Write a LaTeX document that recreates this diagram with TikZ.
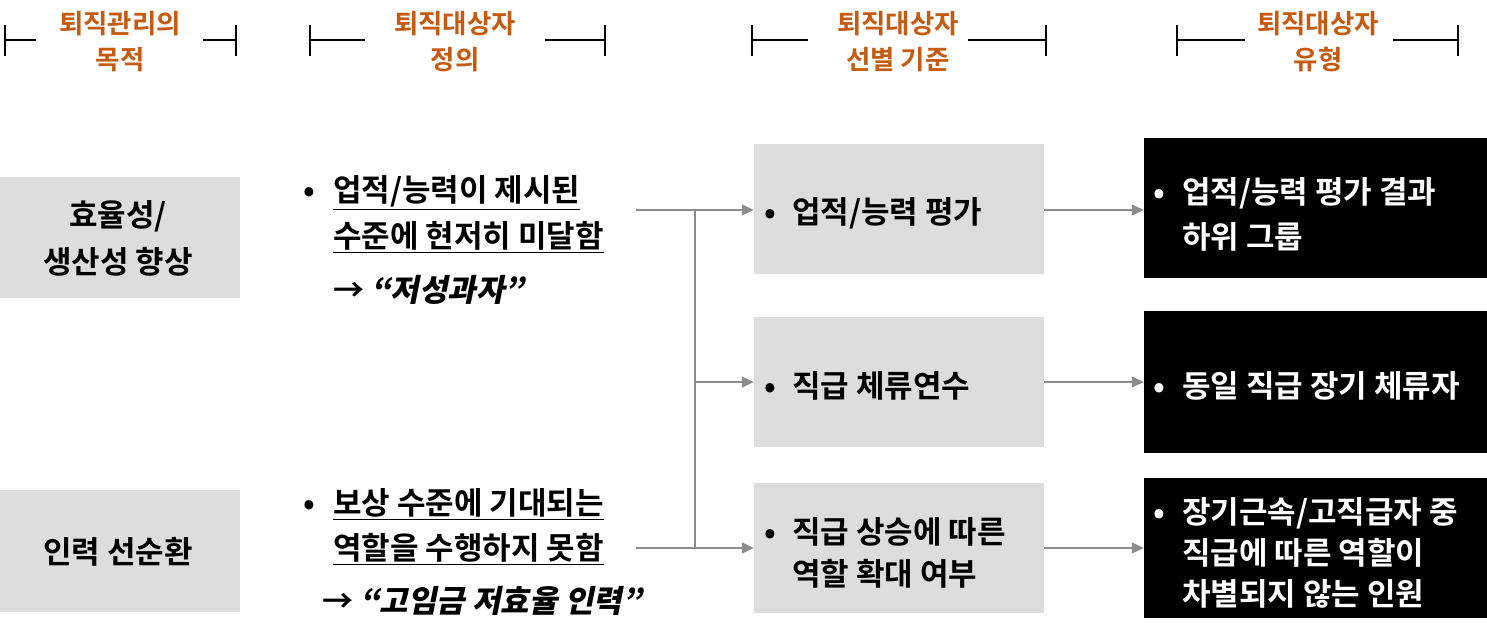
\documentclass[tikz,border=0pt]{standalone}
\usepackage{fontspec}
\setmainfont{Noto Sans CJK KR}[BoldFont={Noto Sans CJK KR Bold}]
\newfontfamily\krbi{Noto Sans CJK KR Bold}[FakeSlant=0.2]
\usetikzlibrary{arrows.meta}
\definecolor{hdr}{HTML}{C55A11}
\definecolor{boxg}{HTML}{DDDDDD}
\definecolor{conn}{HTML}{8C8C8C}
\tikzset{
  hdrtext/.style={text=hdr, font=\fontsize{26.5}{36}\selectfont\bfseries, align=center, inner sep=0pt},
  brk/.style={line width=2.5pt, black},
  graybox/.style={fill=boxg, draw=none, inner sep=0pt},
  blackbox/.style={fill=black, draw=none, inner sep=0pt},
  ln/.style={font=\fontsize{31}{40}\selectfont\bfseries, inner sep=0pt, anchor=west, text height=27pt, text depth=3.5pt},
  lnc/.style={ln, anchor=center},
  wln/.style={ln, text=white},
  conline/.style={draw=conn, line width=1.3pt},
  conarrow/.style={draw=conn, line width=1.3pt, -{Triangle[length=12pt,width=11pt]}, fill=conn},
}
\begin{document}
\begin{tikzpicture}[x=1pt,y=-1pt]
\useasboundingbox (0,0) rectangle (1487,635);

% headers
\node[hdrtext] (h1) at (120,42) {퇴직관리의\\목적};
\node[hdrtext] (h2) at (455,42) {퇴직대상자\\정의};
\node[hdrtext] (h3) at (898,42) {퇴직대상자\\선별 기준};
\node[hdrtext] (h4) at (1318,42) {퇴직대상자\\유형};
\draw[brk] (5,25) -- (5,56) (5,40) -- (36,40) (203,40) -- (236,40) (236,25) -- (236,56);
\draw[brk] (310,25) -- (310,56) (310,40) -- (365,40) (545,40) -- (605,40) (605,25) -- (605,56);
\draw[brk] (752,25) -- (752,56) (752,40) -- (808,40) (968,40) -- (1046,40) (1046,25) -- (1046,56);
\draw[brk] (1177,25) -- (1177,56) (1177,40) -- (1245,40) (1393,40) -- (1458,40) (1458,25) -- (1458,56);

% left boxes
\node[graybox, minimum width=240pt, minimum height=121pt] (a1) at (120,237.5) {};
\node[lnc] (a1t1) at (118,215) {효율성/};
\node[lnc] (a1t2) at (118,262) {생산성 향상};
\node[graybox, minimum width=240pt, minimum height=122pt] (a2) at (120,551) {};
\node[lnc] (a2t) at (118,552) {인력 선순환};

% definitions
\node[ln] (p1b) at (303,190) {•};
\node[ln] (p1l1) at (333,190) {\underline{업적/능력이 제시된}};
\node[ln] (p1l2) at (333,236) {\underline{수준에 현저히 미달함}};
\node[ln] (p1r) at (333,290) {→ {\krbi “저성과자”}};
\node[ln] (p2b) at (303,503) {•};
\node[ln] (p2l1) at (333,503) {\underline{보상 수준에 기대되는}};
\node[ln] (p2l2) at (333,548) {\underline{역할을 수행하지 못함}};
\node[ln] (p2r) at (322,601) {→ {\krbi “고임금 저효율 인력”}};

% criteria boxes
\node[graybox, minimum width=290pt, minimum height=130pt] (b1) at (899,209) {};
\node[graybox, minimum width=290pt, minimum height=130pt] (b2) at (899,382) {};
\node[graybox, minimum width=290pt, minimum height=130pt] (b3) at (899,548) {};
\node[ln] (b1b) at (764,212) {•};
\node[ln] (b1t) at (792,212) {업적/능력 평가};
\node[ln] (b2b) at (764,386) {•};
\node[ln] (b2t) at (792,386) {직급 체류연수};
\node[ln] (b3b) at (764,532) {•};
\node[ln] (b3t1) at (792,532) {직급 상승에 따른};
\node[ln] (b3t2) at (792,574) {역할 확대 여부};

% type boxes
\node[blackbox, minimum width=343pt, minimum height=140pt] (d1) at (1315.5,208) {};
\node[blackbox, minimum width=343pt, minimum height=142pt] (d2) at (1315.5,382) {};
\node[blackbox, minimum width=343pt, minimum height=140pt] (d3) at (1315.5,548) {};
\node[wln] (d1b) at (1153,192) {•};
\node[wln] (d1t1) at (1182,192) {업적/능력 평가 결과};
\node[wln] (d1t2) at (1182,237) {하위 그룹};
\node[wln] (d2b) at (1153,386) {•};
\node[wln] (d2t) at (1182,386) {동일 직급 장기 체류자};
\node[wln] (d3b) at (1153,512) {•};
\node[wln] (d3t1) at (1182,512) {장기근속/고직급자 중};
\node[wln] (d3t2) at (1182,553) {직급에 따른 역할이};
\node[wln] (d3t3) at (1182,594) {차별되지 않는 인원};

% connectors
\coordinate (s1) at (636,210);
\coordinate (s2) at (636,548);
\coordinate (j1) at (695,210);
\coordinate (j2) at (695,548);
\draw[conarrow] (s1) -- (b1.west |- s1);
\draw[conarrow] (s2) -- (b3.west |- s2);
\draw[conline] (j1) -- (j2);
\draw[conarrow] (j1 |- b2.west) -- (b2.west);
\draw[conarrow] (b1.east |- 0,210) -- (d1.west |- 0,210);
\draw[conarrow] (b2.east) -- (d2.west);
\draw[conarrow] (b3.east) -- (d3.west);
\end{tikzpicture}
\end{document}
